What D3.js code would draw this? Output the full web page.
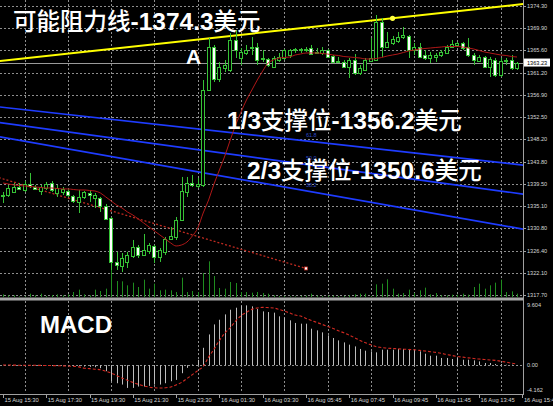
<!DOCTYPE html>
<html>
<head>
<meta charset="utf-8">
<title>XAUUSD M15</title>
<script src="https://cdn.jsdelivr.net/npm/d3@7/dist/d3.min.js"></script>
<style>
  html, body { margin: 0; padding: 0; background: #000; overflow: hidden; }
  svg { display: block; }
</style>
</head>
<body>
<svg id="chart" width="553" height="406"></svg>
<script>
// ---------- 15-minute candles, 15 Aug 15:30 – 16 Aug 15:30 ----------
const opens = [
  1337.09,1337.29,1337.88,1338.86,1338.27,1339.44,1338.86,1338.07,1338.66,1339.64,
  1337.68,1337.88,1338.07,1337.09,1335.92,1336.90,1337.68,1336.70,1336.70,1335.13,
  1332.78,1324.17,1323.38,1324.17,1325.34,1327.11,1325.54,1326.32,1327.30,1325.15,
  1326.13,1328.67,1329.07,1332.39,1337.88,1339.64,1339.05,1339.25,1357.85,1366.27,
  1360.01,1362.16,1361.77,1367.65,1364.12,1365.10,1366.08,1366.27,1363.93,1363.93,
  1362.36,1363.73,1364.12,1364.71,1365.69,1365.88,1365.69,1366.08,1365.30,1365.10,
  1365.69,1364.51,1363.53,1363.34,1362.36,1363.73,1361.18,1361.77,1363.53,1363.73,
  1371.17,1366.27,1367.06,1367.45,1368.23,1368.43,1365.69,1366.27,1364.71,1364.12,
  1364.32,1364.71,1365.10,1366.27,1366.67,1367.06,1366.27,1364.71,1363.53,1364.32,
  1362.36,1363.73,1360.79,1363.73,1363.73,1362.16
];
const highs = [
  1337.88,1339.25,1339.64,1339.64,1340.03,1341.60,1339.25,1339.25,1339.84,1340.03,
  1339.25,1338.86,1338.47,1337.29,1338.27,1338.07,1338.27,1337.68,1336.90,1335.53,
  1332.98,1326.13,1325.93,1326.13,1328.48,1327.50,1329.65,1327.89,1327.50,1326.91,
  1329.07,1331.02,1332.98,1340.82,1340.82,1341.21,1340.62,1359.81,1368.04,1366.67,
  1363.34,1363.73,1369.02,1369.60,1366.08,1366.67,1368.23,1367.06,1365.69,1364.12,
  1364.51,1365.10,1365.88,1365.88,1366.08,1366.08,1366.27,1366.67,1366.08,1366.27,
  1365.88,1364.71,1364.32,1363.73,1364.12,1364.90,1362.75,1364.12,1368.04,1372.54,
  1371.95,1369.21,1368.43,1369.21,1370.19,1368.63,1367.06,1367.06,1365.69,1365.30,
  1365.10,1365.69,1366.67,1367.65,1367.26,1367.26,1368.04,1365.10,1364.71,1364.51,
  1364.32,1364.12,1364.12,1364.12,1364.71,1363.34
];
const lows = [
  1335.72,1336.90,1337.68,1338.27,1337.88,1338.66,1338.27,1337.29,1338.27,1337.88,
  1336.90,1337.29,1336.90,1335.72,1333.76,1336.51,1335.92,1334.74,1333.96,1332.39,
  1322.60,1322.60,1322.21,1322.99,1324.95,1324.95,1325.34,1325.73,1323.97,1324.17,
  1325.54,1328.48,1328.48,1332.20,1336.90,1338.86,1338.66,1338.86,1357.66,1359.42,
  1359.42,1361.38,1361.38,1364.12,1362.75,1364.71,1364.71,1362.75,1363.34,1362.36,
  1362.16,1363.34,1363.73,1364.12,1365.10,1365.10,1365.30,1364.71,1364.90,1364.71,
  1364.12,1363.14,1363.34,1362.16,1360.20,1360.79,1360.79,1361.57,1363.34,1363.53,
  1364.32,1366.08,1366.67,1367.06,1367.84,1364.12,1364.71,1364.12,1363.73,1363.14,
  1363.34,1364.32,1364.90,1366.08,1366.27,1365.69,1364.32,1362.75,1363.34,1362.16,
  1360.40,1360.40,1360.40,1362.75,1361.77,1361.77
];
const closes = [
  1337.29,1338.66,1338.86,1338.47,1339.44,1339.05,1338.47,1338.86,1339.44,1338.27,
  1338.66,1338.47,1337.29,1336.11,1336.90,1337.88,1337.29,1337.29,1335.13,1332.59,
  1324.17,1323.58,1324.95,1325.54,1327.11,1325.54,1326.52,1327.50,1325.15,1326.52,
  1328.67,1329.26,1332.39,1338.07,1339.64,1339.25,1339.44,1357.85,1366.27,1360.01,
  1362.36,1362.75,1367.65,1365.69,1365.30,1365.69,1366.27,1363.73,1364.12,1362.75,
  1364.12,1364.32,1365.69,1365.69,1365.88,1365.69,1365.88,1364.90,1365.25,1365.69,
  1364.32,1363.34,1363.50,1362.36,1363.73,1361.18,1362.16,1363.73,1364.12,1371.17,
  1366.27,1367.26,1367.84,1368.23,1368.63,1365.69,1366.27,1364.32,1364.12,1364.71,
  1364.71,1365.30,1366.27,1366.86,1367.06,1366.08,1364.71,1363.73,1364.32,1362.36,
  1363.93,1360.79,1363.53,1363.70,1362.16,1363.23
];
// moving average of price
const maValues = [
  1339.64,1339.44,1339.25,1339.15,1339.05,1338.96,1338.86,1338.76,1338.66,1338.66,
  1338.56,1338.47,1338.47,1338.37,1338.27,1338.27,1338.17,1338.07,1337.68,1336.90,
  1336.11,1335.33,1334.74,1333.96,1333.37,1332.59,1331.81,1331.02,1330.24,1329.46,
  1328.67,1327.89,1327.30,1327.50,1328.08,1329.26,1330.82,1333.76,1336.31,1339.44,
  1342.19,1344.93,1348.06,1351.00,1353.55,1355.90,1357.85,1359.81,1361.57,1363.14,
  1363.73,1364.12,1364.22,1364.32,1364.71,1364.90,1365.10,1365.10,1365.10,1365.00,
  1364.90,1364.71,1364.61,1364.41,1364.32,1364.22,1364.12,1363.93,1363.93,1364.02,
  1364.22,1364.51,1364.71,1364.90,1365.20,1365.49,1365.69,1365.88,1365.98,1366.08,
  1366.18,1366.27,1366.37,1366.37,1366.37,1366.27,1366.08,1365.88,1365.59,1365.30,
  1365.10,1364.90,1364.71,1364.61,1364.41,1364.32
];
// tick volume
const volumes = [
  80,50,50,20,20,100,50,100,30,60,
  80,50,80,150,220,80,50,220,180,250,
  1050,480,470,350,430,300,520,250,400,200,
  220,200,150,580,150,180,150,720,1070,630,
  270,250,450,420,150,150,130,150,120,100,
  50,30,30,20,20,30,40,100,40,30,
  40,40,30,30,50,80,100,100,30,380,
  400,530,250,100,120,220,120,200,280,80,
  120,50,50,70,70,100,70,300,400,250,
  350,430,520,150,170,100
];
// MACD main (histogram) and signal
const macdHist = [
  0.02,0.02,0.01,0.00,-0.01,-0.02,-0.02,-0.03,-0.04,-0.05,
  -0.06,-0.07,-0.09,-0.11,-0.15,-0.20,-0.25,-0.30,-0.45,-0.90,
  -2.40,-2.70,-2.90,-3.40,-3.40,-3.20,-3.20,-3.10,-2.90,-2.90,
  -2.70,-2.40,-2.20,-1.20,-0.40,0.10,0.80,2.60,4.60,6.10,
  6.80,7.60,8.30,8.60,8.90,8.95,8.80,8.40,8.05,7.95,
  7.86,7.31,7.11,6.71,6.32,6.21,6.21,5.46,5.21,4.91,
  4.46,4.07,3.71,3.41,3.07,2.81,2.43,2.17,2.07,1.92,
  2.32,2.32,2.32,2.43,2.43,2.43,2.32,2.07,1.72,1.42,
  1.42,1.08,1.08,0.93,1.08,0.82,0.82,0.72,0.57,0.33,
  0.33,0.18,0.18,0.07,0.07,0.03
];
const macdSignal = [
  0.02,0.02,0.01,0.00,0.00,-0.01,-0.02,-0.03,-0.05,-0.06,
  -0.08,-0.10,-0.13,-0.17,-0.25,-0.45,-0.52,-0.60,-0.68,-0.90,
  -1.17,-1.55,-1.92,-2.25,-2.57,-2.85,-3.10,-3.28,-3.38,-3.42,
  -3.38,-3.26,-2.95,-2.57,-2.00,-1.42,-0.80,-0.18,1.20,2.40,
  3.70,4.80,5.60,6.60,7.40,7.90,8.35,8.55,8.65,8.62,
  8.56,8.35,8.10,7.80,7.50,7.35,7.00,6.70,6.40,6.10,
  5.80,5.50,5.15,4.85,4.50,4.10,3.70,3.35,3.05,2.75,
  2.65,2.55,2.50,2.45,2.40,2.35,2.30,2.22,2.12,2.02,
  1.92,1.78,1.60,1.45,1.30,1.20,1.10,1.00,0.92,0.85,
  0.78,0.72,0.60,0.45,0.30,0.18
];

// axis labels
const priceTicks = [1374.30,1369.90,1365.60,1361.20,1356.90,1352.50,1348.20,
                    1343.80,1339.50,1335.10,1330.80,1326.40,1322.10,1317.70];
const macdTicks = [9.604, 0, -4.162];
const timeLabels = ["15 Aug 15:30","15 Aug 17:30","15 Aug 19:30","15 Aug 21:30",
  "15 Aug 23:30","16 Aug 01:30","16 Aug 03:30","16 Aug 05:45","16 Aug 07:45",
  "16 Aug 09:45","16 Aug 11:45","16 Aug 13:45","16 Aug 15:45"];
const barsPerLabel = 8;
const currentPrice = 1363.23;

// drawn objects: resistance line, falling trend line, Fibonacci fan
const resistanceBars = [0, 72];
const resistancePrices = [1363.60, 1371.90];
const trendBars = [-10, 56];
const trendPrices = [1343.58, 1322.90];
const fanLevels = ["61.8", "50.0", "38.2"];
const fanBars = [0, 96];
const fanStartPrices = [1354.46, 1351.37, 1348.55];
const fanEndPrices = [1343.17, 1337.49, 1330.63];
const fanLabelBar = 56;

// annotation texts
const titleParts = [["可能阻力线", true], ["-1374.3", false], ["美元", true]];
const support1Parts = [["1/3", false], ["支撑位", true], ["-1356.2", false], ["美元", true]];
const support2Parts = [["2/3", false], ["支撑位", true], ["-1350.6", false], ["美元", true]];

// ---------- layout ----------
const svg = d3.select("#chart");
const plotRight = 523;
const mainTop = 0, mainBottom = 297;
const macdTop = 301, macdBottom = 393;
const axisY = 394;

const GREEN = "#36c236";
const GRID = "#8e8e8e";
const LABEL = "#d6d6d6";
const AXISFONT = "'Liberation Sans', Arial, sans-serif";

const x = d3.scaleLinear().domain([0, 96]).range([3, 522.4]);
const yPrice = d3.scaleLinear().domain([1317.31, 1375.48]).range([mainBottom, mainTop]);
const yVol = d3.scaleLinear().domain([0, 3000]).range([mainBottom, mainBottom - 100]);
const yMacd = d3.scaleLinear().domain([-4.162, 9.604]).range([macdBottom, macdTop]);
const px = i => Math.round(x(i)) + 0.5;
const idx = d3.range(opens.length);

svg.append("rect").attr("width", 553).attr("height", 406).attr("fill", "#000");

const defs = svg.append("defs");
defs.append("clipPath").attr("id", "clipMain")
  .append("rect").attr("x", 0).attr("y", mainTop).attr("width", plotRight).attr("height", mainBottom - mainTop);
defs.append("clipPath").attr("id", "clipMacd")
  .append("rect").attr("x", 0).attr("y", macdTop).attr("width", plotRight).attr("height", macdBottom - macdTop);

// ---------- grid ----------
const grid = svg.append("g").attr("stroke", GRID).attr("stroke-dasharray", "2,2").attr("stroke-width", 1);
grid.selectAll("line.h").data(priceTicks).join("line")
  .attr("x1", 0).attr("x2", plotRight)
  .attr("y1", d => Math.round(yPrice(d)) + 0.5).attr("y2", d => Math.round(yPrice(d)) + 0.5);
const gridBars = d3.range(barsPerLabel / 2, 96, barsPerLabel);
grid.selectAll("line.v").data(gridBars).join("line")
  .attr("x1", d => px(d)).attr("x2", d => px(d))
  .attr("y1", mainTop).attr("y2", mainBottom);
grid.selectAll("line.vm").data(gridBars).join("line")
  .attr("x1", d => px(d)).attr("x2", d => px(d))
  .attr("y1", macdTop).attr("y2", macdBottom);
grid.append("line")
  .attr("x1", 0).attr("x2", plotRight)
  .attr("y1", Math.round(yMacd(0)) + 0.5).attr("y2", Math.round(yMacd(0)) + 0.5);

// ---------- main panel ----------
const gMain = svg.append("g").attr("clip-path", "url(#clipMain)");

// volume
gMain.append("g").selectAll("line").data(idx).join("line")
  .attr("x1", px).attr("x2", px)
  .attr("y1", yVol(0)).attr("y2", i => yVol(volumes[i]))
  .attr("stroke", "#1f8c1f").attr("stroke-width", 1);

// helper: a straight object line through two (bar, price) anchors, extended across the plot
function extended(bars, prices, from, to) {
  const k = (prices[1] - prices[0]) / (bars[1] - bars[0]);
  const p = b => prices[0] + k * (b - bars[0]);
  return [[x(from), yPrice(p(from))], [x(to), yPrice(p(to))]];
}

// Fibonacci fan
fanLevels.forEach((lvl, j) => {
  const pts = extended(fanBars, [fanStartPrices[j], fanEndPrices[j]], -2, 98);
  gMain.append("line")
    .attr("x1", pts[0][0]).attr("y1", pts[0][1])
    .attr("x2", pts[1][0]).attr("y2", pts[1][1])
    .attr("stroke", "#1e3cff").attr("stroke-width", 1.7);
  const k = (fanEndPrices[j] - fanStartPrices[j]) / (fanBars[1] - fanBars[0]);
  const pAt = fanStartPrices[j] + k * (fanLabelBar - fanBars[0]);
  gMain.append("text")
    .attr("x", x(fanLabelBar)).attr("y", yPrice(pAt) - 4)
    .attr("fill", "#2c48c8").attr("font-size", 5.5).attr("font-family", AXISFONT)
    .text(lvl);
});

// resistance line
{
  const pts = extended(resistanceBars, resistancePrices, -2, 98);
  gMain.append("line")
    .attr("x1", pts[0][0]).attr("y1", pts[0][1])
    .attr("x2", pts[1][0]).attr("y2", pts[1][1])
    .attr("stroke", "#ffff00").attr("stroke-width", 2);
  gMain.append("circle")
    .attr("cx", x(resistanceBars[1])).attr("cy", yPrice(resistancePrices[1]))
    .attr("r", 2.6).attr("fill", "#ffff40");
}

// falling trend line (dotted) ending at its anchor
gMain.append("line")
  .attr("x1", x(trendBars[0])).attr("y1", yPrice(trendPrices[0]))
  .attr("x2", x(trendBars[1])).attr("y2", yPrice(trendPrices[1]))
  .attr("stroke", "#c02a20").attr("stroke-width", 1.3).attr("stroke-dasharray", "2,2");
gMain.append("rect")
  .attr("x", x(trendBars[1]) - 1.5).attr("y", yPrice(trendPrices[1]) - 1.5)
  .attr("width", 3).attr("height", 3)
  .attr("fill", "#fff").attr("stroke", "#c02a20").attr("stroke-width", 0.8);

// current price line
gMain.append("line")
  .attr("x1", 0).attr("x2", plotRight)
  .attr("y1", Math.round(yPrice(currentPrice)) + 0.5).attr("y2", Math.round(yPrice(currentPrice)) + 0.5)
  .attr("stroke", "#9a9a9a").attr("stroke-width", 1);

// candles
gMain.append("g").selectAll("line").data(idx).join("line")
  .attr("x1", px).attr("x2", px)
  .attr("y1", i => yPrice(highs[i])).attr("y2", i => yPrice(lows[i]))
  .attr("stroke", GREEN).attr("stroke-width", 1);
gMain.append("g").selectAll("rect").data(idx).join("rect")
  .attr("x", i => Math.round(x(i)) - 1.5)
  .attr("width", 3)
  .attr("y", i => Math.round(yPrice(Math.max(opens[i], closes[i]))) + 0.5)
  .attr("height", i => Math.max(1, Math.round(Math.abs(yPrice(opens[i]) - yPrice(closes[i])))))
  .attr("fill", i => closes[i] < opens[i] ? "#ffffff" : "#000000")
  .attr("stroke", GREEN).attr("stroke-width", 1);

// moving average
gMain.append("path")
  .datum(idx)
  .attr("d", d3.line().x(i => x(i)).y(i => yPrice(maValues[i])).curve(d3.curveMonotoneX))
  .attr("fill", "none").attr("stroke", "#b01818").attr("stroke-width", 1);

// ---------- MACD panel ----------
const gMacd = svg.append("g").attr("clip-path", "url(#clipMacd)");
gMacd.append("g").selectAll("line").data(idx).join("line")
  .attr("x1", px).attr("x2", px)
  .attr("y1", yMacd(0)).attr("y2", i => yMacd(macdHist[i]))
  .attr("stroke", "#bcbcbc").attr("stroke-width", 1);
gMacd.append("path")
  .datum(idx)
  .attr("d", d3.line().x(i => x(i)).y(i => yMacd(macdSignal[i])).curve(d3.curveMonotoneX))
  .attr("fill", "none").attr("stroke", "#d42a22").attr("stroke-width", 1.1)
  .attr("stroke-dasharray", "3,2");

// ---------- frame ----------
svg.append("rect").attr("x", 0).attr("y", mainBottom + 0.5).attr("width", plotRight).attr("height", 3)
  .attr("fill", "#a8a8a8");
svg.append("line").attr("x1", plotRight + 0.5).attr("x2", plotRight + 0.5)
  .attr("y1", 0).attr("y2", axisY).attr("stroke", "#a0a0a0");
svg.append("line").attr("x1", 0).attr("x2", plotRight + 1)
  .attr("y1", axisY + 0.5).attr("y2", axisY + 0.5).attr("stroke", "#a0a0a0");

// ---------- right axes ----------
const rAxis = svg.append("g").attr("font-family", AXISFONT).attr("font-size", 5.6).attr("fill", LABEL);
rAxis.selectAll("text.p").data(priceTicks).join("text")
  .attr("x", 527).attr("y", d => yPrice(d) + 2).text(d => d.toFixed(2));
svg.append("g").selectAll("line").data(priceTicks).join("line")
  .attr("x1", plotRight).attr("x2", plotRight + 3)
  .attr("y1", d => Math.round(yPrice(d)) + 0.5).attr("y2", d => Math.round(yPrice(d)) + 0.5)
  .attr("stroke", "#a0a0a0");
rAxis.selectAll("text.m").data(macdTicks).join("text")
  .attr("x", 527)
  .attr("y", d => d === 0 ? yMacd(0) + 2 : (d > 0 ? yMacd(d) + 5.5 : yMacd(d) - 1.5))
  .text(d => d === 0 ? "0.00" : d.toFixed(3));

// current price tag
svg.append("rect").attr("x", 524).attr("y", yPrice(currentPrice) - 4)
  .attr("width", 26).attr("height", 8).attr("fill", "#ffffff");
svg.append("text").attr("x", 527).attr("y", yPrice(currentPrice) + 2)
  .attr("font-family", AXISFONT).attr("font-size", 5.6).attr("fill", "#000")
  .text(currentPrice.toFixed(2));

// ---------- time axis ----------
const tAxis = svg.append("g");
tAxis.selectAll("line").data(timeLabels).join("line")
  .attr("x1", (d, k) => px(k * barsPerLabel)).attr("x2", (d, k) => px(k * barsPerLabel))
  .attr("y1", axisY).attr("y2", axisY + 4).attr("stroke", "#a0a0a0");
tAxis.selectAll("text").data(timeLabels).join("text")
  .attr("x", (d, k) => x(k * barsPerLabel) + 1.5).attr("y", 401.5)
  .attr("font-family", AXISFONT).attr("font-size", 5.8).attr("fill", LABEL)
  .text(d => d);

// ---------- annotations ----------
const CJK = "'Noto Sans CJK SC', 'Noto Sans CJK JP', sans-serif";
function annotate(parts, tx, ty) {
  const t = svg.append("text").attr("x", tx).attr("y", ty).attr("fill", "#ffffff");
  parts.forEach(([s, isCjk]) => {
    t.append("tspan")
      .attr("font-family", isCjk ? CJK : AXISFONT)
      .attr("font-weight", isCjk ? 500 : 700)
      .attr("font-size", isCjk ? 23.5 : 24.5)
      .text(s);
  });
}
annotate(titleParts, 13, 30);
annotate(support1Parts, 227, 129);
annotate(support2Parts, 247, 179);

svg.append("text").attr("x", 186).attr("y", 64)
  .attr("font-family", AXISFONT).attr("font-weight", 700).attr("font-size", 21)
  .attr("fill", "#fff").text("A");
svg.append("text").attr("x", 40).attr("y", 333)
  .attr("font-family", AXISFONT).attr("font-weight", 700).attr("font-size", 24)
  .attr("fill", "#fff").text("MACD");
</script>
</body>
</html>
